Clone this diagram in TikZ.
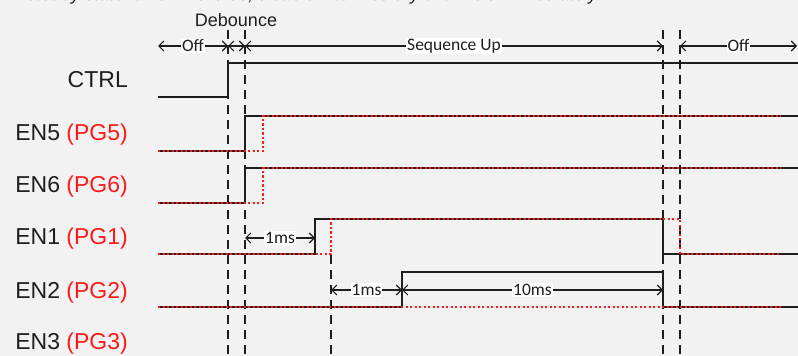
\documentclass[tikz,border=0pt]{standalone}
\usepackage{fontspec}
\setmainfont{Liberation Sans}
\newfontfamily\calib{Carlito}
\usetikzlibrary{arrows.meta}
\definecolor{bg}{HTML}{F2F2F2}
\definecolor{sigc}{HTML}{1E1E1E}
\definecolor{pgred}{HTML}{FF1A1A}
\begin{document}
\begin{tikzpicture}[x=1pt,y=-1pt,
  wave/.style={draw=sigc, line width=1.8pt},
  pgwave/.style={draw=pgred, line width=2.1pt, dash pattern=on 2.2pt off 2.3pt},
  guide/.style={draw=sigc, line width=1.1pt, dash pattern=on 9pt off 6pt},
  dimarrow/.style={draw=sigc, line width=1.1pt, {Straight Barb[length=5pt,width=10pt]}-{Straight Barb[length=5pt,width=10pt]}},
  dimlbl/.style={fill=white, inner sep=1pt, text=sigc, font=\calib\fontsize{17.5}{17.5}\selectfont},
  siglbl/.style={anchor=base east, inner sep=0pt, text=sigc, font=\fontsize{23}{23}\selectfont},
]
\fill[bg] (0,0) rectangle (798,356);
\useasboundingbox (0,0) rectangle (798,356);
\begin{scope}
\clip (0,0) rectangle (798,356);
\node[anchor=base west, inner sep=0pt, text=sigc, font=\itshape\fontsize{18}{18}\selectfont] (note) at (12,1) {If steady state fail on PG1/2/3, disable intermediary channels immediately.};
\end{scope}

% labels
\node[siglbl] (lctrl) at (128,87) {CTRL};
\node[siglbl] (len5) at (128,140) {EN5 \textcolor{pgred}{(PG5)}};
\node[siglbl] (len6) at (128,192) {EN6 \textcolor{pgred}{(PG6)}};
\node[siglbl] (len1) at (128,244.5) {EN1 \textcolor{pgred}{(PG1)}};
\node[siglbl] (len2) at (128,298) {EN2 \textcolor{pgred}{(PG2)}};
\node[siglbl] (len3) at (128,349) {EN3 \textcolor{pgred}{(PG3)}};
\node[inner sep=0pt, text=sigc, font=\fontsize{18}{18}\selectfont] (deb) at (236,20) {Debounce};

% guide lines
\draw[guide] (228,30) -- (228,356);
\draw[guide] (245,30) -- (245,356);
\draw[guide] (663,30) -- (663,356);
\draw[guide] (680,30) -- (680,356);
\draw[guide] (331,255) -- (331,356);

% waveforms
\draw[wave] (158,97) -- (228,97) -- (228,63) -- (798,63);
\draw[wave] (158,151) -- (245,151) -- (245,116) -- (798,116);
\draw[wave] (158,203) -- (245,203) -- (245,168) -- (798,168);
\draw[wave] (158,254) -- (315,254) -- (315,219) -- (663,219) -- (663,254) -- (798,254);
\draw[wave] (158,307) -- (402,307) -- (402,272) -- (663,272) -- (663,307) -- (798,307);

\draw[pgwave] (158,151) -- (263,151) -- (263,116) -- (781,116);
\draw[pgwave] (158,203) -- (263,203) -- (263,168) -- (781,168);
\draw[pgwave] (158,254) -- (331,254) -- (331,219) -- (680,219) -- (680,254) -- (781,254);
\draw[pgwave] (158,307) -- (781,307);

% timing arrows
\coordinate (t0) at (158,46);
\coordinate (t1) at (228,46);
\coordinate (t2) at (245,46);
\coordinate (t3) at (663,46);
\coordinate (t4) at (680,46);
\coordinate (t5) at (797,46);
\draw[dimarrow] (t0) -- node[dimlbl] (off1) {Off} (t1);
\draw[dimarrow] (t1) -- (t2);
\draw[dimarrow] (t2) -- node[dimlbl] (sequ) {Sequence Up} (t3);
\draw[dimarrow] (t4) -- node[dimlbl] (off2) {Off} (t5);

\coordinate (a0) at (245,238);
\coordinate (a1) at (315,238);
\draw[dimarrow] (a0) -- node[dimlbl] (ms1a) {1ms} (a1);

\coordinate (b0) at (331,290);
\coordinate (b1) at (402,290);
\coordinate (b2) at (663,290);
\draw[dimarrow] (b0) -- node[dimlbl] (ms1b) {1ms} (b1);
\draw[dimarrow] (b1) -- node[dimlbl] (ms10) {10ms} (b2);
\end{tikzpicture}
\end{document}
